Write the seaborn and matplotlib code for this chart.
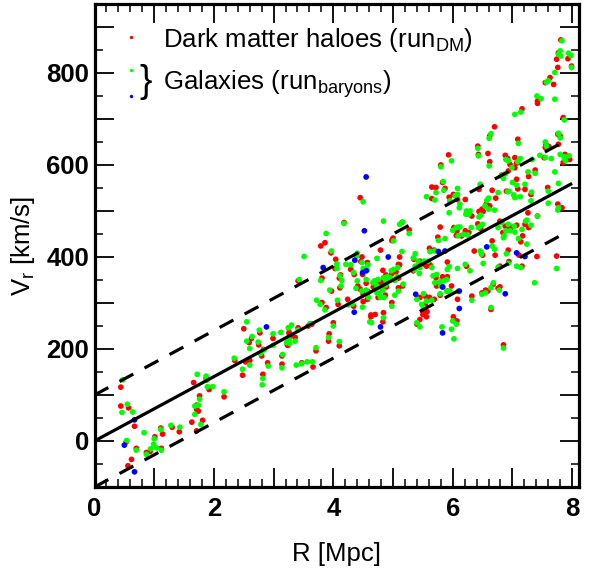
import matplotlib
matplotlib.use("Agg")
import matplotlib.pyplot as plt
import pandas as pd
import seaborn as sns

# ---------------- data ----------------
dm_R = [0.44, 0.44, 0.57, 0.67, 0.53, 0.70, 0.62, 0.56, 0.87, 0.93, 1.01, 1.11, 1.14, 1.12, 1.30, 1.42,
        1.66, 1.76, 1.71, 1.71, 1.74, 1.63, 1.81, 1.71, 1.87, 1.92, 2.17, 2.35, 2.50, 2.77, 2.99, 3.26,
        3.24, 2.63, 2.59, 2.75, 2.83, 2.80, 3.14, 2.90, 3.14, 2.60, 2.53, 2.48, 2.82,
        4.45, 4.18, 3.86, 3.79, 3.96, 4.04, 4.03, 4.48, 4.29, 4.46, 4.57, 4.49, 4.35, 4.12, 4.10, 3.81,
        3.41, 4.41, 4.55, 4.70, 4.11, 3.97, 4.45, 4.50, 4.59, 4.57, 4.75, 4.34, 4.24, 4.08, 4.50, 3.88,
        3.81, 4.63, 3.58, 3.64, 3.25, 3.41, 3.36, 3.26, 3.28, 3.23, 4.00, 3.92, 3.93, 4.10, 3.71, 3.47, 3.66,
        5.93, 5.80, 5.83, 5.65, 5.72, 5.65, 5.87, 5.94, 6.01, 5.15, 5.27, 5.00, 4.98, 5.79, 6.02, 6.06,
        5.75, 5.61, 5.69, 5.91, 4.79, 5.11, 5.09, 5.35, 5.45, 5.51, 5.41, 5.56, 5.62, 5.34, 5.72, 5.83,
        5.78, 5.91, 5.73, 5.83, 5.98, 5.91, 6.08, 5.79, 5.54, 5.54, 5.61, 5.69, 5.45, 5.51, 5.57, 5.56,
        5.50, 5.45, 5.40, 6.01, 6.04, 4.83, 4.88, 4.84, 4.98, 5.11, 5.05, 5.09, 4.74, 4.67, 4.78, 4.81,
        4.89, 4.87, 4.77, 5.16, 5.09, 4.70, 4.63, 4.84, 4.83, 4.98,
        6.70, 6.62, 6.42, 6.43, 6.59, 6.62, 6.88, 6.92, 6.96, 6.82, 6.93, 6.44, 6.66, 6.72, 6.90, 6.56,
        6.62, 6.49, 6.51, 6.44, 6.32, 6.21, 6.08, 6.66, 6.84, 6.92, 6.79, 6.88, 6.98, 6.42, 6.47, 6.21,
        6.15, 6.07, 6.27, 6.36, 6.50, 6.71, 6.93, 6.23, 6.79, 6.94, 6.68, 6.76, 6.59, 6.55, 6.49, 6.32,
        6.79, 6.64, 6.07, 6.85,
        7.81, 7.77, 7.74, 7.93, 7.99, 7.76, 7.63, 7.55, 7.69, 7.42, 7.42, 7.16, 7.85, 7.76, 7.80, 7.77,
        7.61, 7.56, 7.53, 7.55, 7.88, 7.96, 7.85, 7.04, 7.07, 7.04, 7.27, 7.38, 7.09, 7.21, 7.07, 7.31,
        7.59, 7.76, 7.83, 7.26, 7.21, 7.27, 7.17, 7.07, 7.42, 7.14, 7.11, 7.16, 7.41, 7.74, 7.09]
dm_V = [117, 76, 72, 32, -2, -16, -40, -54, -25, -23, 9, 28, 15, -16, 30, 20,
        127, 98, 78, 69, 65, 41, 45, 22, 136, 112, 96, 175, 244, 235, 223, 233,
        208, 223, 214, 209, 199, 185, 185, 170, 167, 175, 172, 143, 145,
        529, 475, 431, 424, 409, 395, 375, 400, 373, 390, 388, 362, 362, 361, 354, 354,
        348, 337, 343, 337, 333, 326, 330, 319, 324, 308, 312, 293, 308, 297, 303, 290,
        301, 274, 250, 254, 246, 246, 225, 236, 228, 209, 257, 217, 233, 207, 196, 170, 161,
        622, 600, 562, 552, 551, 527, 549, 530, 536, 475, 459, 441, 436, 465, 464, 447,
        443, 419, 415, 389, 415, 400, 384, 395, 391, 385, 380, 380, 383, 370, 355, 357,
        344, 357, 337, 335, 337, 326, 308, 317, 315, 297, 312, 308, 312, 286, 281, 270,
        275, 264, 254, 270, 261, 371, 361, 348, 364, 383, 368, 354, 349, 335, 341, 333,
        335, 317, 320, 337, 333, 275, 270, 279, 259, 301,
        683, 663, 641, 623, 625, 607, 621, 614, 601, 578, 587, 547, 545, 528, 543, 515,
        511, 504, 499, 499, 489, 525, 525, 435, 453, 460, 478, 467, 464, 472, 462, 457,
        446, 457, 453, 413, 404, 404, 415, 380, 380, 390, 341, 332, 326, 328, 322, 315,
        335, 286, 261, 209,
        872, 844, 830, 831, 815, 812, 790, 779, 775, 739, 734, 722, 703, 667, 663, 645,
        640, 645, 616, 638, 623, 612, 605, 616, 604, 594, 575, 589, 548, 547, 569, 536,
        551, 515, 507, 496, 471, 464, 446, 469, 489, 433, 404, 380, 401, 402, 656]

gal_R = [0.47, 0.46, 0.55, 0.64, 0.83, 0.54, 0.70, 0.87, 0.94, 0.99, 1.00, 1.04, 1.12, 1.11, 1.28, 1.43,
         1.72, 1.87, 1.88, 1.98, 1.89, 2.17, 1.76, 1.68, 1.74, 1.68, 1.78, 2.55, 2.76, 2.99, 3.12, 3.25,
         3.26, 2.64, 2.55, 2.74, 2.60, 2.84, 2.78, 2.99, 3.15, 2.91, 3.14, 2.34, 2.60, 2.48, 2.82, 2.81,
         4.50, 4.18, 3.88, 3.97, 3.51, 4.06, 4.06, 4.40, 4.39, 4.21, 4.29, 4.48, 4.58, 4.50, 4.57, 4.34,
         4.11, 4.14, 3.79, 3.43, 4.40, 4.55, 4.69, 4.75, 4.74, 4.13, 3.94, 4.38, 4.48, 4.55, 4.59, 4.73,
         4.77, 4.32, 4.07, 4.25, 4.49, 3.86, 3.72, 3.78, 4.61, 3.61, 3.30, 3.41, 3.36, 3.22, 3.27, 4.00,
         3.92, 4.10, 3.71, 3.38, 3.47, 3.56, 3.65,
         5.98, 5.80, 5.84, 5.72, 5.56, 5.70, 5.85, 5.95, 6.04, 6.08, 5.94, 4.84, 5.11, 5.16, 5.27, 5.01,
         6.00, 6.09, 5.76, 5.87, 5.62, 5.70, 5.91, 5.94, 6.08, 4.73, 5.15, 5.37, 5.34, 5.42, 5.52, 5.59,
         5.37, 5.45, 5.65, 5.36, 5.44, 5.73, 5.67, 5.85, 5.79, 5.90, 5.70, 5.80, 5.95, 5.90, 6.09, 5.79,
         5.51, 5.56, 5.65, 5.40, 5.48, 5.51, 5.40, 5.45, 6.00, 6.06, 5.82, 5.98, 6.02,
         4.84, 4.88, 4.90, 4.95, 4.97, 5.01, 4.96, 5.03, 5.08, 5.07, 4.70, 4.66, 4.73, 4.88, 4.85, 4.83,
         4.79, 5.17, 5.09, 5.03, 4.64, 4.84, 4.98,
         6.64, 6.61, 6.43, 6.42, 6.61, 6.89, 6.93, 6.99, 6.81, 6.85, 6.88, 7.00, 6.46, 6.08, 6.76, 6.92,
         6.94, 7.02, 6.57, 6.60, 6.54, 6.60, 6.70, 6.47, 6.44, 6.29, 6.27, 6.23, 6.22, 6.12, 6.11, 6.66,
         6.86, 6.85, 6.89, 6.82, 6.76, 6.93, 6.96, 7.03, 6.46, 6.43, 6.50, 6.31, 6.18, 6.09, 6.06, 6.25,
         6.12, 6.46, 6.48, 6.70, 6.90, 6.21, 6.29, 6.51, 6.76, 6.93, 6.68, 6.64, 6.78, 6.55, 6.49, 6.32,
         6.64, 6.85,
         7.83, 7.80, 7.77, 7.81, 7.94, 7.98, 7.99, 7.71, 7.60, 7.57, 7.48, 7.41, 7.71, 7.14, 7.04, 7.87,
         7.77, 7.80, 7.10, 7.55, 7.57, 7.46, 7.55, 7.65, 7.80, 7.87, 7.95, 7.89, 7.87, 7.71, 7.13, 7.09,
         7.26, 7.38, 7.33, 7.07, 7.21, 7.13, 7.04, 7.32, 7.31, 7.60, 7.60, 7.77, 7.76, 7.77, 7.24, 7.22,
         7.31, 7.16, 7.10, 7.04, 7.42, 7.24, 7.14, 7.07, 7.74, 7.37]
gal_V = [133, 62, 80, 63, 18, 1, -20, -29, -17, -7, 5, -15, -20, 25, 34, 30,
         145, 141, 132, 118, 118, 107, 91, 76, 78, 58, 36, 259, 241, 233, 236, 246,
         221, 227, 217, 215, 201, 198, 190, 208, 188, 163, 159, 180, 165, 156, 136, 122,
         520, 473, 451, 413, 401, 385, 375, 408, 402, 384, 383, 388, 383, 375, 372, 366,
         359, 349, 349, 351, 348, 351, 348, 351, 333, 337, 328, 332, 326, 328, 312, 322,
         319, 298, 306, 296, 291, 285, 306, 297, 259, 255, 252, 241, 217, 214, 212, 250,
         225, 216, 203, 165, 168, 172, 172,
         609, 596, 564, 540, 531, 524, 545, 522, 533, 536, 496, 478, 471, 476, 451, 435,
         458, 465, 436, 440, 412, 413, 373, 379, 375, 397, 412, 407, 398, 391, 391, 391,
         380, 377, 377, 372, 364, 362, 359, 348, 346, 351, 344, 337, 326, 326, 325, 320,
         320, 304, 306, 308, 297, 290, 257, 248, 261, 254, 248, 243, 222,
         355, 349, 357, 355, 370, 373, 351, 349, 377, 357, 348, 344, 337, 339, 312, 328,
         312, 341, 326, 317, 257, 268, 293,
         668, 658, 620, 636, 598, 612, 609, 594, 576, 571, 581, 562, 558, 549, 540, 542,
         543, 535, 523, 528, 511, 504, 502, 491, 487, 500, 493, 500, 493, 515, 507, 424,
         446, 442, 457, 475, 464, 471, 457, 467, 467, 464, 471, 464, 449, 446, 464, 448,
         465, 413, 406, 417, 407, 384, 370, 386, 378, 386, 344, 333, 328, 322, 319, 306,
         290, 202,
         870, 848, 841, 837, 843, 838, 812, 801, 783, 780, 744, 750, 743, 715, 710, 698,
         669, 659, 647, 650, 641, 621, 616, 614, 623, 618, 620, 609, 614, 585, 614, 607,
         585, 582, 612, 556, 558, 531, 529, 541, 522, 543, 517, 507, 502, 560, 480, 478,
         469, 460, 440, 454, 489, 428, 377, 380, 375, 344]

blue_R = [0.67, 0.50, 0.67, 2.88, 4.52, 3.83, 4.36, 4.49, 4.55, 4.35, 4.55, 4.92, 5.76, 5.87,
          5.83, 5.38, 5.83, 6.11, 4.79, 6.57, 6.88, 6.11, 7.07, 7.21]
blue_V = [46, -9, -67, 248, 457, 377, 393, 366, 370, 280, 574, 400, 412, 413,
          335, 319, 235, 288, 248, 422, 320, 326, 409, 401]

fit_R = [0.0, 8.0]
fit_V = [0.0, 560.0]
upper_R = [0.0, 7.84]
upper_V = [100.0, 649.0]
lower_R = [0.0, 7.84]
lower_V = [-100.0, 449.0]

x_ticks = [0, 1, 2, 3, 4, 5, 6, 7, 8]
x_labels = ["0", "", "2", "", "4", "", "6", "", "8"]
y_ticks = [-100, 0, 100, 200, 300, 400, 500, 600, 700, 800, 900]
y_labels = ["", "0", "", "200", "", "400", "", "600", "", "800", ""]

legend_labels = ["Dark matter haloes (run$_{DM}$)", "Galaxies (run$_{baryons}$)"]
colors = {"dm": "#ff0000", "gal": "#00ff00", "blue": "#0000ff"}

# ---------------- style ----------------
sns.set_style("ticks")
plt.rcParams["font.family"] = ["Liberation Sans", "DejaVu Sans"]
plt.rcParams["mathtext.default"] = "regular"
plt.rcParams["text.color"] = "black"
plt.rcParams["axes.labelcolor"] = "black"
plt.rcParams["xtick.color"] = "black"
plt.rcParams["ytick.color"] = "black"

df = pd.concat([
    pd.DataFrame({"R": dm_R, "V": dm_V, "sample": "dm"}),
    pd.DataFrame({"R": gal_R, "V": gal_V, "sample": "gal"}),
    pd.DataFrame({"R": blue_R, "V": blue_V, "sample": "blue"}),
], ignore_index=True)

fig = plt.figure(figsize=(5.93, 5.78), dpi=100)
ax = fig.add_axes([94.5 / 593, 1 - 487 / 578, (579 - 94.5) / 593, (487 - 4) / 578])

sns.scatterplot(data=df, x="R", y="V", hue="sample", palette=colors, s=17,
                linewidth=0, legend=False, ax=ax, zorder=2)

ax.plot(fit_R, fit_V, color="black", lw=2.3, zorder=3, solid_capstyle="butt")
for xr, yr in [(upper_R, upper_V), (lower_R, lower_V)]:
    ax.plot(xr, yr, color="black", lw=2.3, zorder=3,
            linestyle=(0, (4.9, 4.0)), dash_capstyle="butt")

ax.set_xlim(0, 8.115)
ax.set_ylim(-100, 950)

ax.set_xticks(x_ticks)
ax.set_xticklabels(x_labels, fontsize=18.5, fontweight="bold", color="black")
ax.set_yticks(y_ticks)
ax.set_yticklabels(y_labels, fontsize=18.5, fontweight="bold", color="black")
ax.set_xticks([i * 0.2 for i in range(41)], minor=True)
ax.set_yticks([-100 + 50 * i for i in range(22)], minor=True)

ax.tick_params(which="both", direction="in", top=True, right=True, colors="black")
ax.tick_params(which="major", length=14, width=1.3)
ax.tick_params(which="minor", length=5.8, width=1.1)
ax.tick_params(axis="x", which="major", pad=7)
ax.tick_params(axis="y", which="major", pad=4)

for sp in ax.spines.values():
    sp.set_linewidth(2.3)
    sp.set_color("black")
    sp.set_visible(True)

ax.set_xlabel("R [Mpc]", fontsize=18.5, color="black")
ax.set_ylabel("V$_{r}$ [km/s]", fontsize=18.5, color="black")
ax.xaxis.set_label_coords(0.5, -0.113)
ax.yaxis.set_label_coords(-0.118, 0.5)

# legend-like annotation
ax.scatter([0.0753], [0.9317], s=6, color=colors["dm"], transform=ax.transAxes, linewidth=0, zorder=4)
ax.scatter([0.0753], [0.8634], s=6, color=colors["gal"], transform=ax.transAxes, linewidth=0, zorder=4)
ax.scatter([0.0753], [0.8095], s=6, color=colors["blue"], transform=ax.transAxes, linewidth=0, zorder=4)
ax.text(0.106, 0.8375, "}", transform=ax.transAxes, fontsize=27, ha="center", va="center", color="black")
ax.text(0.1413, 0.9116, legend_labels[0], transform=ax.transAxes, fontsize=18.6, va="baseline", ha="left", color="black")
ax.text(0.1413, 0.822, legend_labels[1], transform=ax.transAxes, fontsize=18.6, va="baseline", ha="left", color="black")

fig.savefig("out.png", dpi=100)
